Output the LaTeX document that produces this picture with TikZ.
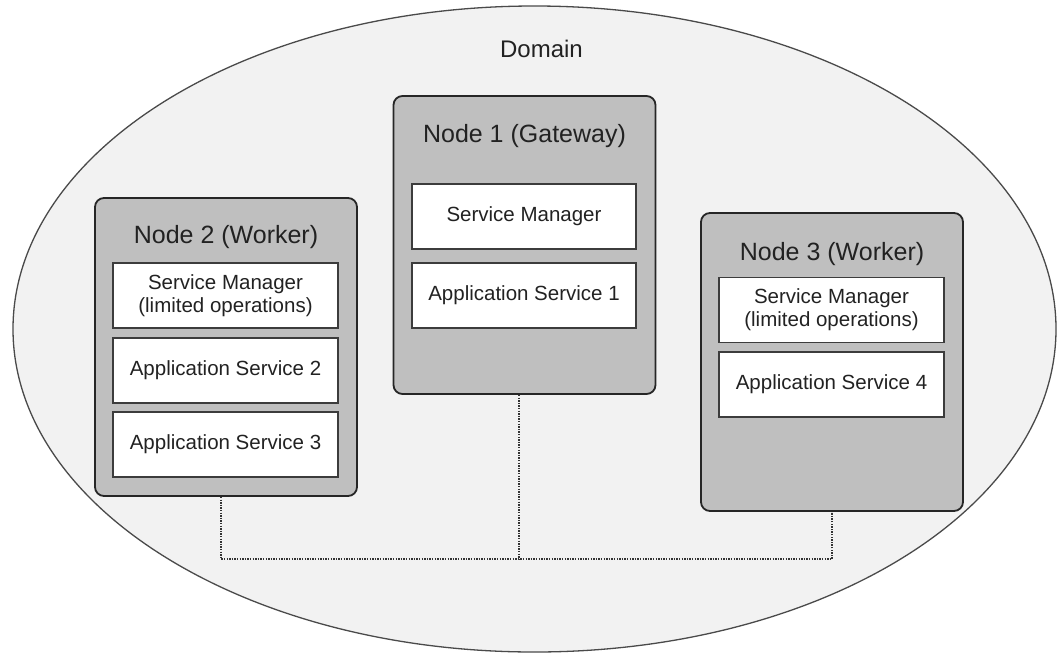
\documentclass[tikz,border=0pt]{standalone}
\usepackage{fontspec}
\setmainfont{Liberation Sans}
\usetikzlibrary{shapes.geometric}
\definecolor{domfill}{HTML}{F2F2F2}
\definecolor{domline}{HTML}{4A4A4A}
\definecolor{nodefill}{HTML}{BFBFBF}
\definecolor{nodeline}{HTML}{262626}
\definecolor{boxline}{HTML}{3C3C3C}
\definecolor{txt}{HTML}{222222}
\definecolor{linkcol}{HTML}{333333}
\tikzset{
  domellipse/.style={ellipse, draw=domline, fill=domfill, line width=1.3pt, minimum width=1043pt, minimum height=646pt, inner sep=0pt},
  hostbox/.style={rectangle, rounded corners=9pt, draw=nodeline, fill=nodefill, line width=1.8pt, minimum width=262pt, minimum height=298pt, inner sep=0pt},
  svcbox/.style={rectangle, draw=boxline, fill=white, line width=1.2pt, minimum width=225pt, minimum height=65pt, inner sep=0pt, align=center, text=txt, font=\fontsize{20.5}{25}\selectfont},
  hosttitle/.style={anchor=base, text=txt, inner sep=0pt, font=\fontsize{25}{30}\selectfont},
  domtitle/.style={anchor=base, text=txt, inner sep=0pt, font=\fontsize{24}{29}\selectfont},
  link/.style={draw=linkcol, line width=1.4pt, dash pattern=on 1.4pt off 1.2pt}
}
\begin{document}
\begin{tikzpicture}[x=1pt,y=-1pt]
\useasboundingbox (0,0) rectangle (1057,654);
\node[domellipse] (dom) at (534.5,329) {};
\node[domtitle] (domt) at (541.5,57) {Domain};

\node[hostbox] (n1) at (524.5,245) {};
\node[hostbox] (n2) at (226,347) {};
\node[hostbox] (n3) at (832,362) {};

\node[hosttitle] (t1) at (524.5,142) {Node 1 (Gateway)};
\node[hosttitle] (t2) at (226,243) {Node 2 (Worker)};
\node[hosttitle] (t3) at (832,260) {Node 3 (Worker)};

\node[svcbox, minimum width=224pt] (sm1) at (524,216.5) {Service Manager};
\node[svcbox, minimum width=224pt] (as1) at (524,295.5) {Application Service 1};

\node[svcbox] (sm2) at (225.5,295.5) {Service Manager\\[-2pt](limited operations)};
\node[svcbox] (as2) at (225.5,370.5) {Application Service 2};
\node[svcbox] (as3) at (225.5,444.5) {Application Service 3};

\node[svcbox] (sm3) at (831.5,310) {Service Manager\\[-2pt](limited operations)};
\node[svcbox] (as4) at (831.5,384.5) {Application Service 4};

\coordinate (j1) at (519,559);
\coordinate (j2) at (221,559);
\coordinate (j3) at (832,559);
\draw[link] (n2.south -| j2) -- (j2) -- (j3) -- (n3.south -| j3);
\draw[link] (n1.south -| j1) -- (j1);
\end{tikzpicture}
\end{document}
